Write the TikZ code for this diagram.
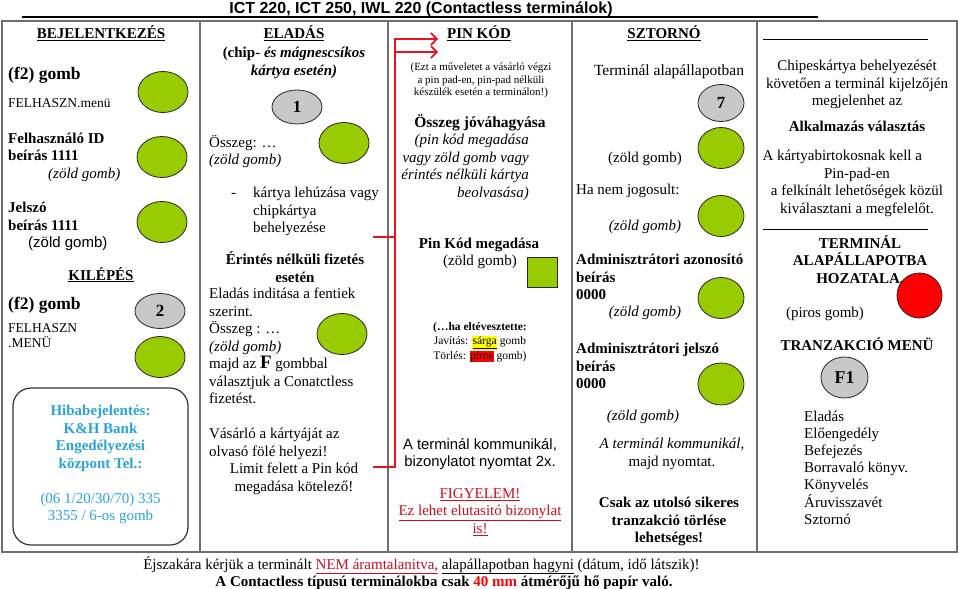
\documentclass[tikz,border=0pt]{standalone}
\usepackage{fontspec}
\setmainfont{Liberation Serif}
\setsansfont{Liberation Sans}
\usetikzlibrary{shapes.geometric,arrows.meta}

\definecolor{zold}{RGB}{153,204,0}
\definecolor{szurke}{RGB}{200,200,200}
\definecolor{piros}{RGB}{255,0,0}
\definecolor{sarga}{RGB}{255,255,0}
\definecolor{cian}{RGB}{41,163,222}
\definecolor{sotetpiros}{RGB}{200,16,32}
\definecolor{keretszurke}{RGB}{110,110,110}
\definecolor{vonalpiros}{RGB}{230,20,30}

\newcommand\alapbetu{\fontsize{15}{17.5}\selectfont}
\newcommand\kisbetu{\fontsize{11}{12.5}\selectfont}
\newcommand\nagybetu{\fontsize{17.5}{20}\selectfont}
\setlength{\fboxsep}{0.4pt}

\begin{document}
\begin{tikzpicture}[x=1pt,y=-1pt,>={Straight Barb[length=6pt,width=12pt]},
  szoveg/.style={inner sep=0pt,font=\alapbetu,execute at begin node=\strut},
  felkover/.style={szoveg,font=\alapbetu\bfseries},
  dolt/.style={szoveg,font=\alapbetu\itshape},
  cimsor/.style={felkover,anchor=base},
  gomb/.style={ellipse,draw=black!85,line width=0.8pt,inner sep=0pt,minimum width=50pt,minimum height=41pt},
  zoldgomb/.style={gomb,fill=zold},
  szurkegomb/.style={gomb,fill=szurke,font=\fontsize{17}{20}\selectfont\bfseries},
  pirosgomb/.style={gomb,fill=piros,minimum width=45pt,minimum height=45pt},
  zoldnegyzet/.style={draw=black!85,line width=0.8pt,fill=zold,minimum size=30pt,inner sep=0pt},
  keret/.style={draw=keretszurke,line width=1.5pt},
  vekony/.style={draw=black,line width=0.9pt},
  nyil/.style={draw=vonalpiros,line width=1.6pt,->}]

\useasboundingbox (0,0) rectangle (959,589);

% cim
\node[szoveg,anchor=base,font=\fontsize{16}{18}\selectfont\sffamily\bfseries] (cim) at (421,13) {ICT 220, ICT 250, IWL 220 (Contactless terminálok)};
\draw[line width=1.3pt] (22,17) -- (818,17);

% tablazat
\draw[keret] (2,21) rectangle (957,552);
\draw[keret] (200,21) -- (200,552) (388,21) -- (388,552) (572,21) -- (572,552) (757,21) -- (757,552);

% bejelentkezes
\node[cimsor] (bej) at (101,38.5) {\underline{BEJELENTKEZÉS}};
\node[szoveg,anchor=base west,font=\nagybetu\bfseries] (f2be) at (8,79) {(f2) gomb};
\node[szoveg,anchor=base west,font=\fontsize{13.5}{15}\selectfont] (menube) at (8,107) {FELHASZN.menü};
\node[szoveg,anchor=north west,align=left] (azon) at (8,132.5) {\textbf{Felhasználó ID}\\\textbf{beírás 1111}\\\hspace*{40pt}\textit{(zöld gomb)}};
\node[szoveg,anchor=north west,align=left] (jelszo) at (8,202) {\textbf{Jelszó}\\\textbf{beírás 1111}\\\hspace*{20pt}{\sffamily (zöld gomb)}};
\node[zoldgomb] (g1) at (163,92) {};
\node[zoldgomb] (g2) at (162,157) {};
\node[zoldgomb] (g3) at (162,222) {};

\node[cimsor] (kilep) at (101,280) {\underline{KILÉPÉS}};
\node[szoveg,anchor=base west,font=\nagybetu\bfseries] (f2ki) at (8,309) {(f2) gomb};
\node[szoveg,anchor=north west,align=left,font=\fontsize{13.5}{15}\selectfont] (menuki) at (8,323.5) {FELHASZN\\.MENÜ};
\node[szurkegomb,minimum height=35pt] (k2) at (160,311) {2};
\node[zoldgomb] (g4) at (160,357) {};

\draw[draw=black!80,line width=1.2pt,rounded corners=18pt] (13,388) rectangle (188,545);
\node[szoveg,anchor=north,align=center,text=cian] (hiba) at (100.5,405) {\textbf{Hibabejelentés:}\\\textbf{K\&H Bank}\\\textbf{Engedélyezési}\\\textbf{központ Tel.:}\\[17.5pt](06 1/20/30/70) 335\\3355 / 6-os gomb};

% eladas
\node[cimsor] (elad) at (294,38.5) {\underline{ELADÁS}};
\node[felkover,anchor=north,align=center] (chip) at (294,47) {(chip- \textit{és mágnescsíkos}\\\textit{kártya esetén)}};
\node[szurkegomb,minimum height=34pt] (k1) at (297,107) {1};
\node[szoveg,anchor=north west,align=left] (osszeg1) at (209,135) {Összeg: …\\\textit{(zöld gomb)}};
\node[zoldgomb] (g5) at (344,143) {};
\node[szoveg,anchor=base west] (kotojel) at (231,197) {-};
\node[szoveg,anchor=north west,align=left] (lehuzas) at (253,187) {kártya lehúzása vagy\\chipkártya\\behelyezése};
\node[felkover,anchor=north,align=center] (erintes) at (295,251.5) {Érintés nélküli fizetés\\esetén};
\node[szoveg,anchor=north west,align=left] (indit) at (209,288) {Eladás inditása a fentiek\\szerint.\\Összeg : …\\\textit{(zöld gomb)}\\majd az {\fontsize{19}{17.5}\selectfont\bfseries F} gombbal\\választjuk a Conatctless\\fizetést.};
\node[zoldgomb] (g6) at (342,334) {};
\node[szoveg,anchor=north west,align=left] (vasarlo) at (209,428) {Vásárló a kártyáját az\\olvasó fölé helyezi!};
\node[szoveg,anchor=north,align=center] (limit) at (294,463) {Limit felett a Pin kód\\megadása kötelező!};

% pin kod
\node[cimsor] (pin) at (479,38.5) {\underline{PIN KÓD}};
\node[szoveg,anchor=north,align=center,font=\kisbetu] (muvelet) at (481,63) {(Ezt a műveletet a vásárló végzi\\a pin pad-en, pin-pad nélküli\\készülék esetén a terminálon!)};
\node[szoveg,anchor=base,font=\fontsize{15.5}{17.5}\selectfont\bfseries] (jovahagy) at (480,127) {Összeg jóváhagyása};
\node[dolt,anchor=north east,align=right] (vagy) at (529,134) {(pin kód megadása\\vagy zöld gomb vagy\\érintés nélküli kártya\\beolvasása)};
\node[felkover,anchor=base] (pinmeg) at (479,248) {Pin Kód megadása};
\node[szoveg,anchor=base] (zgpin) at (480,265) {(zöld gomb)};
\node[zoldnegyzet] (n1) at (542,272) {};
\node[szoveg,anchor=north,align=center,font=\fontsize{11.5}{14.5}\selectfont] (javit) at (480,322) {\textbf{(…ha eltévesztette:}\\Javítás: \colorbox{sarga}{\underline{sárga}} gomb\\Törlés: \colorbox{piros}{piros} gomb)};
\node[szoveg,anchor=north,align=center,font=\fontsize{14.8}{17.5}\selectfont\sffamily] (komm) at (480,438) {A terminál kommunikál,\\bizonylatot nyomtat 2x.};
\node[szoveg,anchor=north,align=center,text=sotetpiros] (figyelem) at (480,488) {\underline{FIGYELEM!}\\\underline{Ez lehet elutasitó bizonylat}\\\underline{is!}};

% piros nyilak
\coordinate (ki1) at (373,237);
\coordinate (ki2) at (373,467);
\coordinate (be1) at (438,39);
\coordinate (be2) at (438,52);
\draw[nyil] (ki1) -- ++(22,0) |- (be2);
\draw[nyil] (ki2) -- ++(22,0) |- (be1);

% sztorno
\node[cimsor] (sztorno) at (664,38.5) {\underline{SZTORNÓ}};
\node[szoveg,anchor=base,font=\fontsize{15.5}{17.5}\selectfont] (alap) at (669,75) {Terminál alapállapotban};
\node[szurkegomb,minimum width=46pt,minimum height=37pt] (k7) at (721,103) {7};
\node[zoldgomb,minimum width=46pt] (g7) at (721,148) {};
\node[szoveg,anchor=base] (zg7) at (645,162) {(zöld gomb)};
\node[szoveg,anchor=base west] (jogos) at (576,194) {Ha nem jogosult:};
\node[zoldgomb,minimum width=46pt] (g8) at (721,216) {};
\node[dolt,anchor=base] (zg8) at (645,230) {(zöld gomb)};
\node[felkover,anchor=north west,align=left] (adminaz) at (576,254) {Adminisztrátori azonosító\\beírás\\0000};
\node[zoldgomb,minimum width=46pt] (g9) at (721,298) {};
\node[dolt,anchor=base] (zg9) at (645,316) {(zöld gomb)};
\node[felkover,anchor=north west,align=left] (adminje) at (576,343) {Adminisztrátori jelszó\\beírás\\0000};
\node[zoldgomb,minimum width=46pt,minimum height=42pt] (g10) at (721,384) {};
\node[dolt,anchor=base] (zg10) at (643,420) {(zöld gomb)};
\node[szoveg,anchor=north,align=center] (komm2) at (672,438) {\textit{A terminál kommunikál,}\\majd nyomtat.};
\node[felkover,anchor=north,align=center] (csak) at (669,497) {Csak az utolsó sikeres\\tranzakció törlése\\lehetséges!};

% alkalmazas valasztas, tranzakcio menu
\draw[vekony] (763,39) -- (928,39);
\node[szoveg,anchor=north,align=center] (chipes) at (857,60) {Chipeskártya behelyezését\\követően a terminál kijelzőjén\\megjelenhet az};
\node[felkover,anchor=base] (alkalm) at (857,131) {Alkalmazás választás};
\node[szoveg,anchor=north,align=center] (birtok) at (857,150) {\makebox[189pt][l]{A kártyabirtokosnak kell a}\\Pin-pad-en\\a felkínált lehetőségek közül\\kiválasztani a megfelelőt.};
\draw[vekony] (763,229) -- (928,229);
\node[felkover,anchor=north,align=center] (alapba) at (860,235) {TERMINÁL\\ALAPÁLLAPOTBA\\HOZATALA.};
\node[pirosgomb] (p1) at (919.5,295.5) {};
\node[szoveg,anchor=base] (pg) at (825,317) {(piros gomb)};
\node[cimsor] (menu) at (857,350) {TRANZAKCIÓ MENÜ};
\node[szurkegomb,minimum width=47pt,minimum height=41pt,font=\fontsize{18}{20}\selectfont\bfseries] (f1) at (844.5,377.5) {F1};
\node[szoveg,anchor=north west,align=left,font=\fontsize{15}{17.2}\selectfont] (lista) at (804,410.5) {Eladás\\Előengedély\\Befejezés\\Borravaló könyv.\\Könyvelés\\Áruvisszavét\\Sztornó};

% lablec
\node[szoveg,anchor=base] (ejjel) at (421.5,569) {Éjszakára kérjük a terminált \textcolor{sotetpiros}{\underline{NEM áramtalanitva,}} \underline{alapállapotban hagyni} (dátum, idő látszik)!};
\node[felkover,anchor=base] (papir) at (444,586) {A Contactless típusú terminálokba csak \textcolor{piros}{40 mm} átmérőjű hő papír való.};

\end{tikzpicture}
\end{document}
